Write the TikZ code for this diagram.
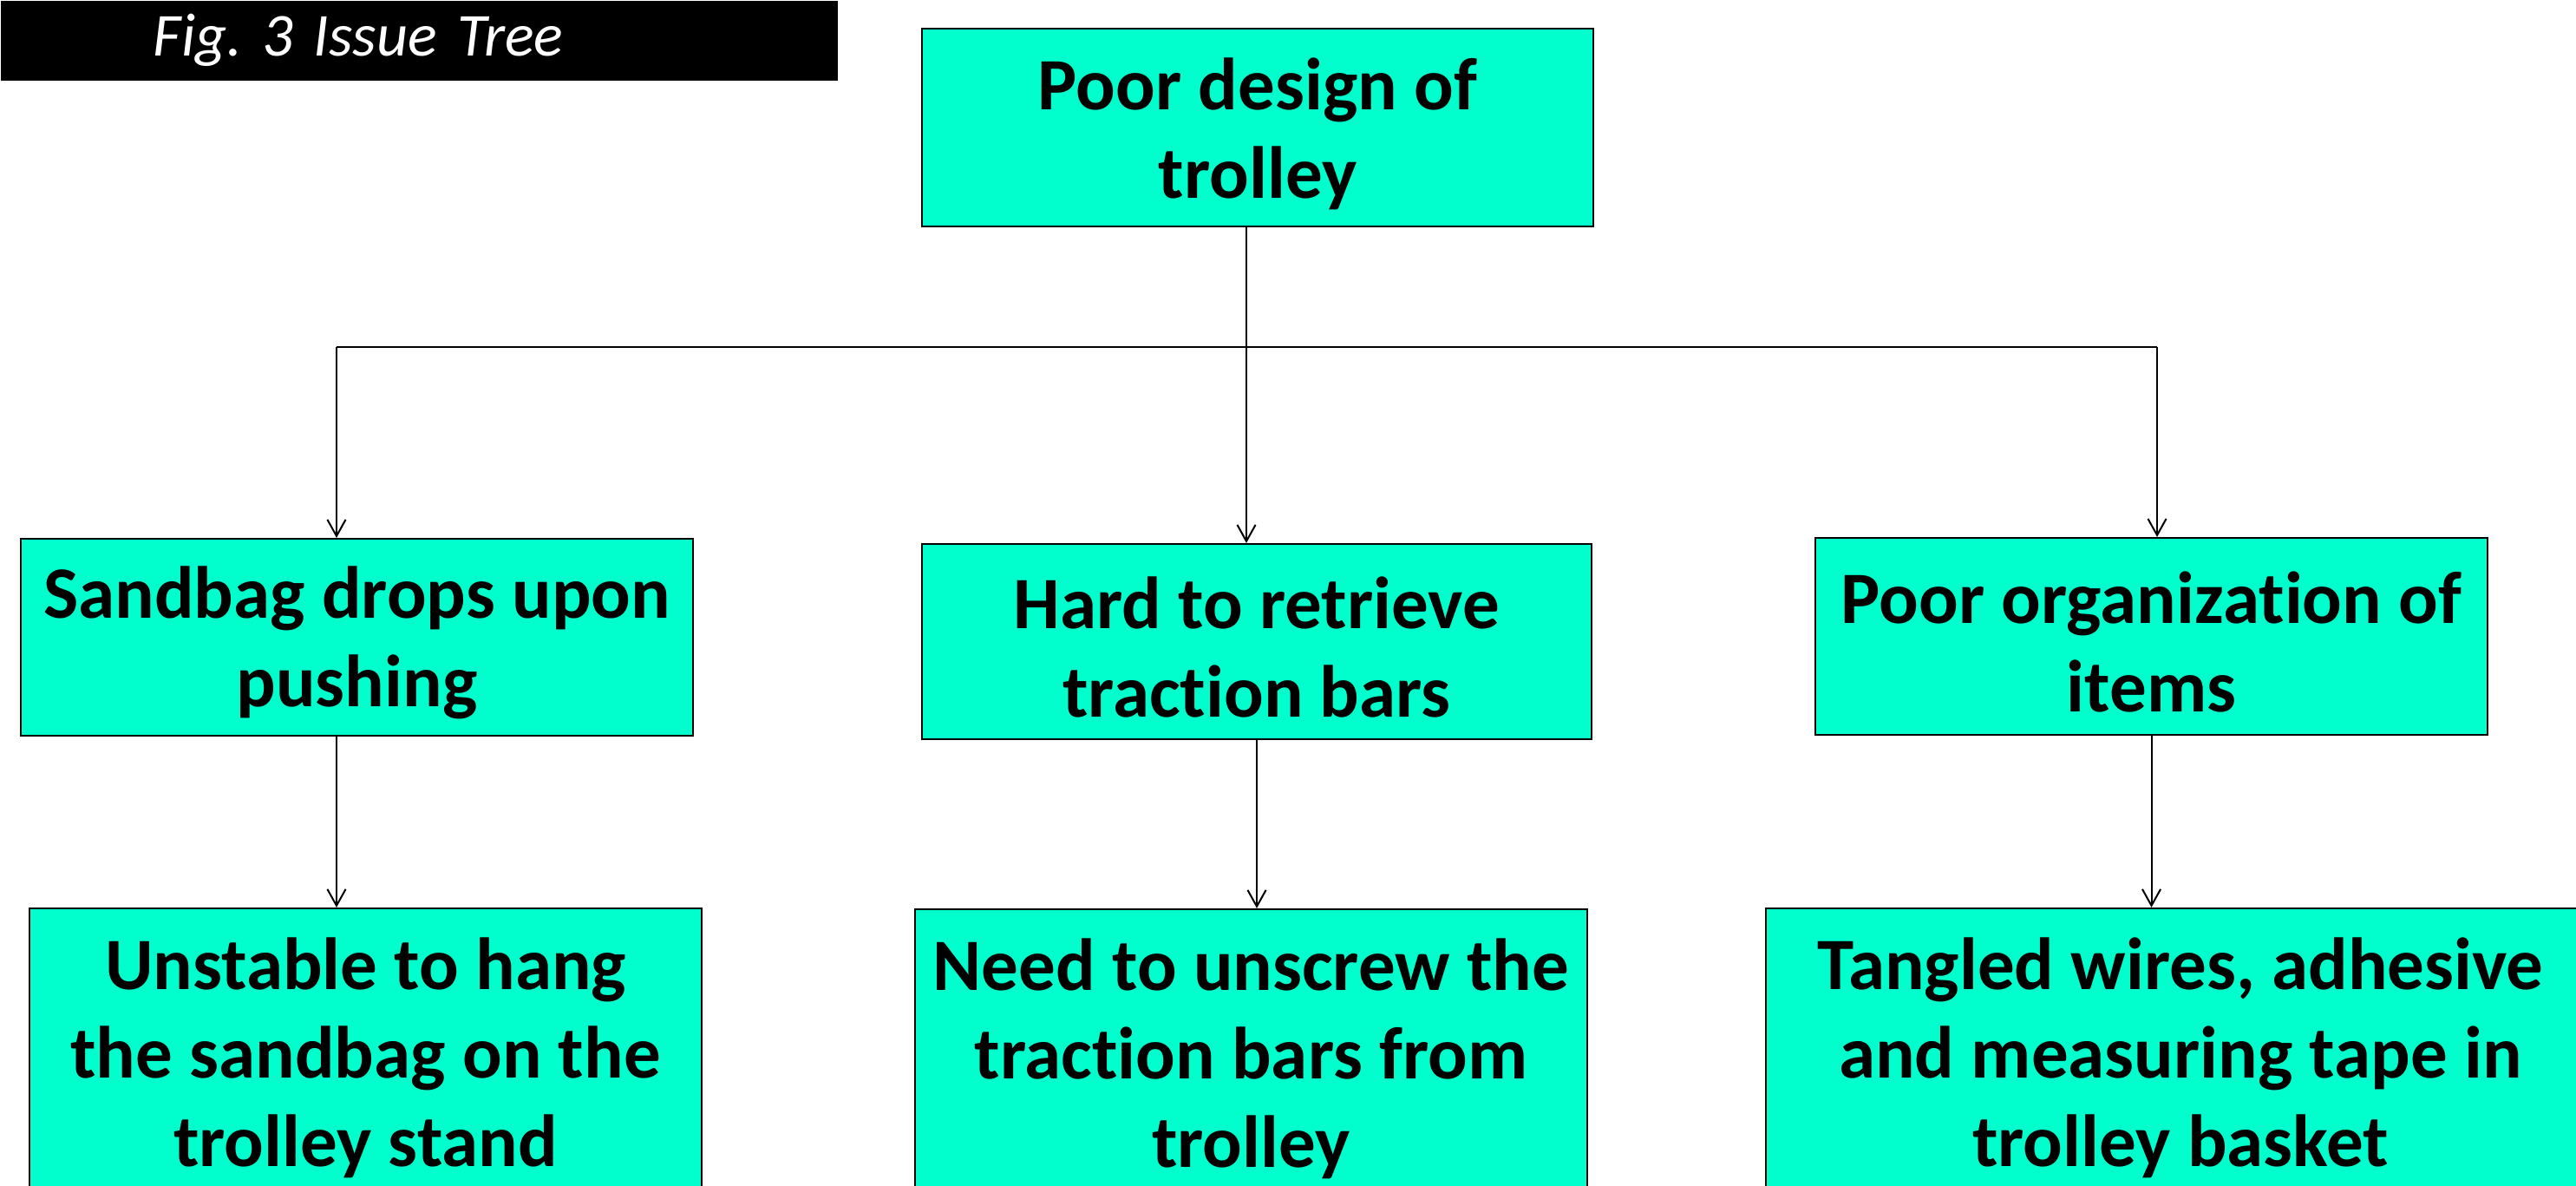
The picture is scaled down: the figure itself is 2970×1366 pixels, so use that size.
\documentclass[tikz,border=0pt]{standalone}
\usepackage{fontspec}
\setmainfont{Carlito}[RawFeature={-liga}]
\usetikzlibrary{arrows.meta}
\definecolor{boxfill}{RGB}{0,255,204}
\frenchspacing
\begin{document}
\begin{tikzpicture}[x=0.01cm, y=-0.01cm,
  issue/.style={draw=black, line width=0.02cm, fill=boxfill, inner sep=0pt},
  issuetext/.style={inner sep=0pt, align=center,
                font=\fontsize{24.2pt}{29pt}\selectfont\bfseries},
  conn/.style={line width=0.02cm, draw=black},
  arr/.style={conn, -{Straight Barb[length=5.4pt, width=6pt]}}
]
\useasboundingbox (0,0) rectangle (2970,1366);
\node[fill=black, inner sep=0pt, minimum width=9.65cm, minimum height=0.92cm, anchor=north west,
      text width=9.65cm, align=left, text=white, font=\fontsize{20pt}{24pt}\selectfont\itshape]
      (title) at (0,0) {\hspace*{1.76cm}Fig. 3 Issue Tree};

\node[issue, minimum width=7.74cm, minimum height=2.28cm] (top) at (1450,147) {};
\node[issue, minimum width=7.75cm, minimum height=2.27cm] (c1) at (411.5,734.5) {};
\node[issue, minimum width=7.72cm, minimum height=2.25cm] (c2) at (1449,739.5) {};
\node[issue, minimum width=7.75cm, minimum height=2.27cm] (c3) at (2480.5,733.5) {};
\node[issue, minimum width=7.75cm, minimum height=3.58cm] (d1) at (421.5,1226) {};
\node[issue, minimum width=7.75cm, minimum height=3.58cm] (d2) at (1442.5,1227) {};
\node[issue, minimum width=9.56cm, minimum height=3.58cm] (d3) at (2514,1226) {};

\node[issuetext] (topt) at ([yshift=-0.07cm]top.center) {Poor design of\\trolley};
\node[issuetext] (c1t) at ([yshift=-0.06cm]c1.center) {Sandbag drops upon\\pushing};
\node[issuetext] (c2t) at ([yshift=-0.06cm]c2.center) {Hard to retrieve\\traction bars};
\node[issuetext] (c3t) at ([yshift=-0.06cm]c3.center) {Poor organization of\\items};
\node[issuetext] (d1t) at ([yshift=0.07cm]d1.center) {Unstable to hang\\the sandbag on the\\trolley stand};
\node[issuetext] (d2t) at ([yshift=0.07cm]d2.center) {Need to unscrew the\\traction bars from\\trolley};
\node[issuetext] (d3t) at ([yshift=0.07cm]d3.center) {Tangled wires, adhesive\\and measuring tape in\\trolley basket};

\coordinate (j) at (1437,400);
\coordinate (bL) at (388,400);
\coordinate (bR) at (2487,400);
\draw[arr] (top.south -| j) -- (j |- c2.north);
\draw[conn] (bL) -- (bR);
\draw[arr] (bL) -- (bL |- c1.north);
\draw[arr] (bR) -- (bR |- c3.north);
\draw[arr] (c1.south -| bL) -- (bL |- d1.north);
\draw[arr] (c2.south) -- (c2.south |- d2.north);
\draw[arr] (c3.south) -- (c3.south |- d3.north);
\end{tikzpicture}
\end{document}
